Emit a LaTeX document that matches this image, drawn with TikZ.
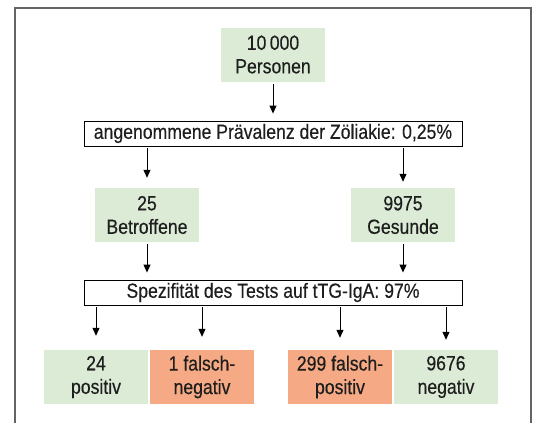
\documentclass[tikz,border=0pt]{standalone}
\usepackage{fontspec}
\setmainfont{Liberation Sans}[FakeStretch=0.86, FakeBold=0.35]
\usetikzlibrary{arrows.meta}
\definecolor{boxgreen}{RGB}{220,235,214}
\definecolor{boxorange}{RGB}{245,170,133}
\definecolor{framegray}{RGB}{100,100,100}
\definecolor{textdark}{RGB}{30,30,30}
\begin{document}
\begin{tikzpicture}[x=1pt,y=-1pt,
  every node/.style={font=\fontsize{20.5}{23.5}\selectfont, text=textdark, inner sep=0pt, align=center},
  greenbox/.style={fill=boxgreen, minimum width=104pt, minimum height=54pt},
  orangebox/.style={fill=boxorange, minimum width=104pt, minimum height=54pt},
  linebox/.style={draw=black, line width=0.9pt, minimum width=378pt, minimum height=25pt},
  arr/.style={-{Triangle[width=7pt,length=8pt]}, line width=1pt, shorten <=2pt}]
\useasboundingbox (0,0) rectangle (536,423);
\draw[framegray, line width=1.6pt] (15,423) -- (15,8) -- (531,8) -- (531,423);
\node[greenbox] (pers) at (273,54.5) {10\,000\\Personen};
\node[linebox] (prev) at (273,133.5) {angenommene Prävalenz der Zöliakie: 0,25\%};
\node[greenbox] (betr) at (147,215) {25\\Betroffene};
\node[greenbox] (ges) at (403,215) {9975\\Gesunde};
\node[linebox] (spez) at (273,292.5) {Spezifität des Tests auf tTG-IgA: 97\%};
\node[greenbox] (pos) at (96,377) {24\\positiv};
\node[orangebox] (fn) at (202,377) {1 falsch-\\negativ};
\node[orangebox] (fp) at (340,377) {299 falsch-\\positiv};
\node[greenbox] (neg) at (446,377) {9676\\negativ};
\draw[arr, shorten >=7pt] (pers.south) -- (prev.north -| pers.south);
\draw[arr, shorten >=10pt] (prev.south -| betr.north) -- (betr.north);
\draw[arr, shorten >=6pt] (prev.south -| ges.north) -- (ges.north);
\draw[arr, shorten >=7pt] (betr.south) -- (spez.north -| betr.south);
\draw[arr, shorten >=7pt] (ges.south) -- (spez.north -| ges.south);
\draw[arr, shorten >=14pt] (spez.south -| pos.north) -- (pos.north);
\draw[arr, shorten >=13pt] (spez.south -| fn.north) -- (fn.north);
\draw[arr, shorten >=12pt] (spez.south -| fp.north) -- (fp.north);
\draw[arr, shorten >=10pt] (spez.south -| neg.north) -- (neg.north);
\end{tikzpicture}
\end{document}
